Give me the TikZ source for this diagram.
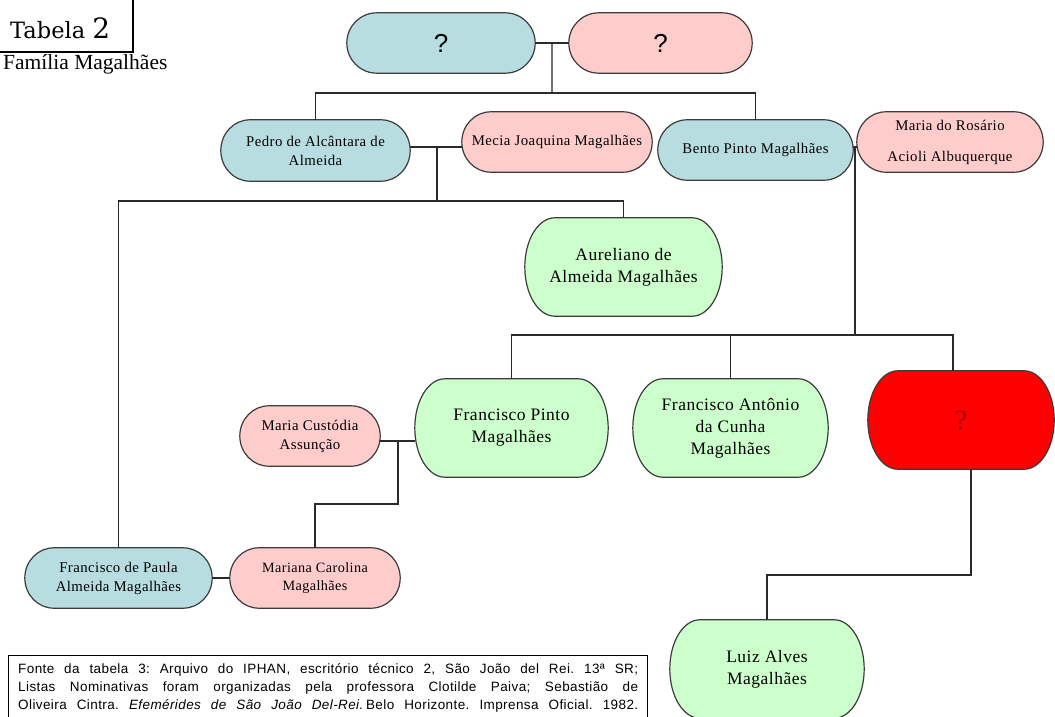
\documentclass[tikz,border=0pt]{standalone}
\usepackage{fontspec}
\setmainfont{Liberation Serif}
\newfontfamily\arialf{Liberation Sans}
\newfontfamily\footf[LetterSpace=3]{Liberation Sans}
\newfontfamily\nodef[LetterSpace=3]{Liberation Serif}
\newfontfamily\titlef{DejaVu Serif}
\usetikzlibrary{calc,backgrounds}
\definecolor{bluef}{HTML}{B8DDE1}
\definecolor{pinkf}{HTML}{FFCCCC}
\definecolor{greenf}{HTML}{CCFFCC}
\definecolor{redf}{HTML}{FF0000}
\definecolor{bord}{HTML}{3C3C3C}
\definecolor{linec}{HTML}{2A2A2A}
\definecolor{qred}{HTML}{A00000}
\newcommand\stadium[3]{\path[draw=bord,line width=1.2pt,fill=#3]
  let \p1=(#1.north west), \p2=(#1.south east), \n1={(\y1-\y2)/2} in
  (\x1+#2pt,\y1) -- (\x2-#2pt,\y1)
  arc[start angle=90,end angle=-90,x radius=#2pt,y radius=\n1]
  -- (\x1+#2pt,\y2)
  arc[start angle=270,end angle=90,x radius=#2pt,y radius=\n1] -- cycle;}
\tikzset{
  box/.style={inner sep=0pt, align=center, text=black, font=\nodef\fontsize{14.8}{19}\selectfont},
  big/.style={box, font=\nodef\fontsize{17.5}{22}\selectfont},
  sz/.style 2 args={minimum width=#1pt, minimum height=#2pt},
  conn/.style={draw=linec, line width=1.3pt},
  qmark/.style={inner sep=0pt, font=\arialf\fontsize{26}{30}\selectfont}
}
\begin{document}
\frenchspacing
\begin{tikzpicture}[x=1pt,y=-1pt]
\useasboundingbox (0,0) rectangle (1055,717);
\clip (0,0) rectangle (1055,717);

% title
\draw[line width=1.5pt, black] (-5,-5) rectangle (133,52);
\node[anchor=base west, inner sep=0pt, font=\titlef\fontsize{22.5}{26}\selectfont] (tab) at (10,39) {Tabela {\fontsize{28}{30}\selectfont 2}};
\node[anchor=base west, inner sep=0pt, font=\fontsize{21.5}{24}\selectfont] (fam) at (3,70) {Família Magalhães};

% nodes
\node[qmark, sz={188}{60}] (qb) at (441,43) {?};
\node[qmark, sz={183}{60}] (qp) at (660.5,43) {?};
\node[box, sz={189}{61}] (pedro) at (315.5,150.5) {Pedro de Alcântara de\\Almeida};
\node[box, sz={190}{60}] (mecia) at (557,142) {Mecia Joaquina Magalhães};
\node[box, sz={195}{60}] (bento) at (755.5,150) {\raisebox{-7pt}{Bento Pinto Magalhães}};
\node[box, sz={186}{60}] (maria) at (950,142) {Maria do Rosário\\[12pt]Acioli Albuquerque};
\node[big, sz={197}{98}] (aur) at (623.5,267) {Aureliano de\\Almeida Magalhães};
\node[big, sz={193}{98}] (fp) at (511.5,428) {Francisco Pinto\\Magalhães};
\node[big, sz={195}{98}] (fa) at (730.5,428) {Francisco Antônio\\da Cunha\\Magalhães};
\node[inner sep=0pt, sz={186}{98}, text=qred, font=\fontsize{28}{30}\selectfont] (red) at (961,420) {?};
\node[big, sz={194}{98}] (luiz) at (767,669) {Luiz Alves\\Magalhães};
\node[box, sz={140}{60}] (mc) at (310,436) {Maria Custódia\\Assunção};
\node[box, sz={187}{60}] (fdp) at (118.5,578) {Francisco de Paula\\Almeida Magalhães};
\node[box, sz={170}{60}, font=\nodef\fontsize{14.2}{18}\selectfont] (mariana) at (315,578) {Mariana Carolina\\Magalhães};

\begin{scope}[on background layer]
\stadium{qb}{30}{bluef}
\stadium{qp}{30}{pinkf}
\stadium{pedro}{29}{bluef}
\stadium{mecia}{29}{pinkf}
\stadium{bento}{29}{bluef}
\stadium{maria}{29}{pinkf}
\stadium{aur}{30}{greenf}
\stadium{fp}{30}{greenf}
\stadium{fa}{30}{greenf}
\stadium{red}{30}{redf}
\stadium{luiz}{30}{greenf}
\stadium{mc}{29}{pinkf}
\stadium{fdp}{29}{bluef}
\stadium{mariana}{29}{pinkf}
\end{scope}

% connectors
\coordinate (j0) at ($(qb.east)!0.5!(qp.west)$);
\coordinate (h0) at (552,93);
\draw[conn] (qb.east) -- (qp.west);
\draw[conn] (j0) -- (h0);
\draw[conn] (pedro.north) |- (h0) -| (bento.north);

\coordinate (j1) at (437,147);
\coordinate (h1) at (437,201);
\draw[conn] (pedro.east |- j1) -- (mecia.west |- j1);
\draw[conn] (j1) -- (h1);
\draw[conn] (fdp.north) |- (h1) -| (aur.north);

\coordinate (j2) at (855,147);
\coordinate (h2) at (855,335);
\coordinate (rt) at (953,335);
\draw[conn] (bento.east |- j2) -- (maria.west |- j2);
\draw[conn] (j2) -- (h2);
\draw[conn] (fp.north) |- (rt) -- (rt |- red.north);
\draw[conn] (fa.north) -- (fa.north |- rt);

\coordinate (j3) at (398,441);
\coordinate (h3) at (398,504);
\draw[conn] (mc.east |- j3) -- (fp.west |- j3);
\draw[conn] (j3) -- (h3) -| (mariana.north);

\draw[conn] (fdp.east) -- (mariana.west);

\coordinate (rb) at (971,575);
\draw[conn] (red.south -| rb) -- (rb) -| (luiz.north);

% footer
\draw[line width=1pt, black] (8,655) rectangle (647,730);
\node[anchor=base west, inner sep=0pt, align=left, font=\footf\fontsize{13.5}{18}\selectfont] (src) at (18,709) {%
\makebox[620pt][s]{Fonte da tabela 3: Arquivo do IPHAN, escritório técnico 2, São João del Rei. 13ª SR;}\\
\makebox[620pt][s]{Listas Nominativas foram organizadas pela professora Clotilde Paiva; Sebastião de}\\
\makebox[620pt][s]{Oliveira Cintra. \textit{Efemérides de São João Del-Rei.}\,Belo Horizonte. Imprensa Oficial. 1982.}};
\end{tikzpicture}
\end{document}
